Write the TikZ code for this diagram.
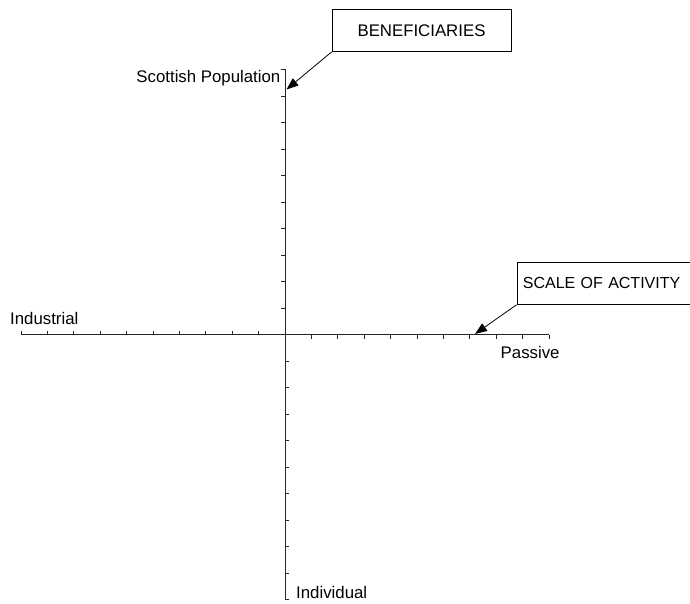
\documentclass[tikz,border=0pt]{standalone}
\usepackage{fontspec}
\setmainfont{Liberation Sans}
\usetikzlibrary{arrows.meta,calc}
\begin{document}
\begin{tikzpicture}[x=1pt,y=-1pt,
  axisline/.style={line width=0.9pt,black!85},
  tickmark/.style={line width=0.8pt,black!85},
  callout/.style={draw,line width=0.8pt,inner sep=0pt,minimum height=42pt,font=\fontsize{16.8}{20}\selectfont},
  lbl/.style={inner sep=0pt,font=\fontsize{16.8}{20}\selectfont},
  pointer/.style={line width=0.8pt,-{Triangle[length=12pt,width=9pt]}}]
\useasboundingbox (0,0) rectangle (690,604);
\begin{scope}
\clip (0,0) rectangle (690,604);
% axes
\coordinate (O) at (285,334.5);
\coordinate (L) at (21,334.5);
\coordinate (R) at (549,334.5);
\coordinate (T) at (285,69.5);
\coordinate (B) at (285,599.5);
\draw[axisline] (L) -- (R);
\draw[axisline] (T) -- (B);
% ticks
\foreach \i in {1,...,10}{
  \draw[tickmark] ($(O)+(-26.4*\i,0)$) -- ++(0,-4);
  \draw[tickmark] ($(O)+(26.4*\i,0)$) -- ++(0,4);
  \draw[tickmark] ($(O)+(0,-26.5*\i)$) -- ++(-4,0);
  \draw[tickmark] ($(O)+(0,26.5*\i)$) -- ++(4,0);
}
% callouts
\node[callout,minimum width=179pt] (ben) at (421.5,30.5) {BENEFICIARIES};
\node[callout,anchor=north west,minimum width=190pt,text width=178pt,align=left,inner xsep=6pt,font=\fontsize{16}{20}\selectfont] (scale) at (516.5,262) {SCALE OF ACTIVITY};
\coordinate (bentip) at (286.5,89.5);
\coordinate (scaletip) at (475,334);
\draw[pointer] (ben.south west) -- (bentip);
\draw[pointer] (scale.south west) -- (scaletip);
% labels
\node[lbl,anchor=base east] (scot) at (280.5,83) {Scottish Population};
\node[lbl,anchor=base west] (ind) at (10,324) {Industrial};
\node[lbl,anchor=base west] (pas) at (500.5,358) {Passive};
\node[lbl,anchor=base west] (indiv) at (296,598) {Individual};
\end{scope}
\end{tikzpicture}
\end{document}
